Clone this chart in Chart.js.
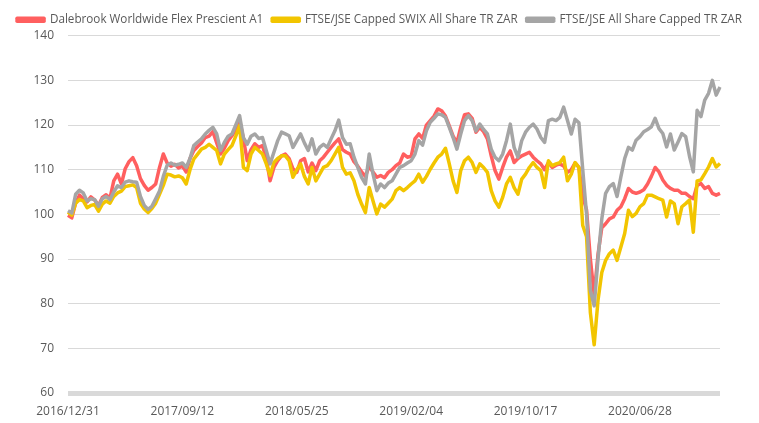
<!DOCTYPE html>
<html>
<head>
<meta charset="utf-8">
<script src="https://cdn.jsdelivr.net/npm/chart.js@4"></script>
<style>
  html, body { margin: 0; padding: 0; background: #fff; }
  #wrap { width: 759px; height: 423px; }
</style>
</head>
<body>
<div id="wrap"><canvas id="chart"></canvas></div>
<script>
// series names
const seriesNames = [
  "Dalebrook Worldwide Flex Prescient A1",
  "FTSE/JSE Capped SWIX All Share TR ZAR",
  "FTSE/JSE All Share Capped TR ZAR"
];

// x axis: one point every 8.5 days from 2016/12/31, label every 30 points
const startDate = "2016-12-31";
const tickLabels = ["2016/12/31", "2017/09/12", "2018/05/25", "2019/02/04", "2019/10/17", "2020/06/28"];

// values
const dalebrook = [
  99.8, 99.2, 102.5, 104.3, 103.5, 102.8, 103.9, 103.2, 102.0, 103.8,
  104.4, 103.6, 107.5, 109.0, 106.8, 110.2, 111.8, 112.7, 110.9, 108.0,
  106.5, 105.4, 106.0, 106.8, 110.5, 113.5, 111.5, 110.8, 111.2, 110.4,
  110.8, 109.5, 112.5, 114.3, 115.2, 116.0, 117.2, 117.5, 118.5, 116.0,
  113.5, 114.8, 116.5, 117.6, 119.0, 121.0, 117.0, 112.0, 114.5, 115.8,
  115.0, 115.4, 112.5, 107.5, 110.5, 112.0, 113.1, 113.5, 112.5, 110.2,
  109.4, 112.0, 112.5, 109.5, 111.5, 109.8, 112.0, 112.8, 113.9, 115.0,
  116.0, 116.9, 114.5, 113.9, 113.5, 111.8, 110.8, 109.5, 108.5, 110.8,
  109.5, 108.3, 108.7, 108.2, 109.4, 110.0, 110.9, 111.5, 113.5, 112.8,
  113.0, 116.9, 118.0, 117.0, 120.0, 121.0, 122.0, 123.6, 123.2, 122.0,
  119.8, 117.5, 116.0, 119.5, 122.3, 122.5, 121.5, 118.4, 119.5, 118.5,
  116.9, 113.1, 109.8, 107.9, 110.5, 112.8, 114.2, 111.6, 112.5, 113.1,
  113.5, 113.9, 112.8, 112.0, 111.3, 110.0, 111.6, 110.5, 111.0, 111.3,
  110.8, 109.4, 110.0, 111.5, 110.5, 104.0, 101.0, 90.0, 82.0, 91.0,
  97.0, 97.9, 99.0, 99.4, 100.9, 101.7, 103.5, 105.8, 105.0, 104.7,
  105.0, 105.5, 106.8, 108.5, 110.5, 109.5, 107.7, 106.5, 105.8, 105.4,
  105.4, 104.7, 104.7, 104.0, 103.5, 106.5, 106.9, 105.8, 106.2, 104.7,
  104.3, 104.7
];

const swix = [
  100.5, 99.8, 102.5, 103.3, 103.0, 101.5, 102.0, 102.2, 100.7, 102.3,
  103.0, 102.5, 104.0, 104.8, 105.2, 106.2, 106.4, 106.6, 106.0, 102.5,
  101.2, 100.4, 101.3, 102.5, 104.5, 106.5, 109.0, 108.8, 108.4, 108.6,
  108.2, 106.8, 110.0, 112.4, 113.5, 114.6, 115.0, 115.7, 115.0, 114.3,
  111.3, 113.5, 114.5, 115.4, 117.5, 119.9, 110.5, 109.8, 113.5, 115.0,
  114.3, 113.5, 111.3, 108.7, 111.6, 112.5, 113.1, 113.1, 112.0, 108.3,
  110.0, 111.3, 108.5, 106.8, 110.5, 107.5, 109.0, 110.5, 110.9, 112.0,
  113.5, 115.0, 110.5, 109.0, 109.3, 107.5, 104.5, 102.3, 100.4, 106.0,
  103.0, 100.1, 102.3, 101.6, 102.5, 103.4, 105.3, 106.0, 105.3, 106.0,
  106.8, 107.5, 109.0, 107.2, 108.5, 110.1, 111.5, 112.8, 113.5, 114.8,
  111.3, 107.5, 104.9, 109.8, 112.0, 112.8, 111.6, 109.4, 111.3, 110.5,
  109.4, 105.3, 103.0, 101.6, 103.8, 106.8, 108.3, 106.0, 104.5, 107.9,
  109.0, 110.5, 111.6, 110.5, 109.8, 106.0, 112.0, 110.9, 111.3, 111.6,
  112.8, 107.5, 109.0, 111.6, 110.5, 97.5, 95.0, 78.0, 70.8, 80.7,
  87.0, 89.7, 91.2, 92.0, 89.7, 92.7, 95.7, 100.9, 99.5, 100.2,
  101.7, 102.4, 104.3, 104.3, 103.9, 103.5, 103.2, 99.4, 103.0, 102.4,
  97.9, 101.7, 102.4, 103.2, 96.0, 107.5, 107.7, 109.1, 110.6, 112.5,
  110.6, 111.4
];

const alsi = [
  100.8, 100.3, 104.5, 105.4, 104.8, 103.0, 103.5, 103.3, 101.8, 103.5,
  104.0, 103.3, 105.0, 106.4, 106.0, 107.2, 107.5, 107.3, 107.2, 104.0,
  102.0, 101.1, 101.8, 103.5, 105.2, 108.5, 111.0, 111.5, 111.0, 111.2,
  111.5, 110.5, 112.5, 115.4, 116.2, 116.9, 118.0, 118.8, 119.5, 118.0,
  114.3, 116.1, 117.5, 118.0, 120.0, 122.1, 117.2, 115.7, 117.5, 118.0,
  117.0, 117.2, 114.3, 111.3, 113.9, 116.5, 118.4, 118.0, 117.6, 115.0,
  116.5, 118.0, 116.0, 114.3, 116.9, 113.5, 115.0, 115.7, 115.0, 116.9,
  118.7, 121.1, 117.2, 115.7, 115.8, 112.8, 110.5, 108.3, 106.8, 113.5,
  109.0, 105.3, 106.8, 106.0, 107.0, 107.5, 109.0, 110.5, 110.9, 111.5,
  112.0, 113.5, 116.5, 115.5, 118.7, 120.6, 121.5, 122.5, 122.3, 121.7,
  119.5, 117.2, 114.6, 118.0, 121.0, 122.1, 121.0, 118.7, 120.2, 119.0,
  118.0, 114.6, 112.8, 112.0, 113.5, 116.5, 120.2, 115.0, 112.8, 116.5,
  118.4, 119.5, 120.2, 119.1, 117.2, 116.1, 121.0, 121.3, 121.0, 121.7,
  124.0, 121.0, 118.0, 121.3, 120.5, 110.0, 100.0, 83.0, 79.5, 90.0,
  99.0, 104.7, 106.2, 106.9, 104.0, 108.4, 112.5, 115.0, 114.4, 116.6,
  117.4, 118.5, 119.0, 119.6, 121.5, 119.2, 118.1, 115.1, 118.0, 114.4,
  116.2, 118.1, 117.4, 113.0, 109.5, 123.3, 121.9, 125.6, 127.1, 130.0,
  126.7, 128.5
];

const colors = ["#FF5F5F", "#F2C500", "#A5A5A5"];

// build date categories
const categories = dalebrook.map((v, i) => {
  const d = new Date(startDate + "T00:00:00Z");
  d.setUTCDate(d.getUTCDate() + Math.round(i * 8.5));
  const p = n => String(n).padStart(2, "0");
  return d.getUTCFullYear() + "/" + p(d.getUTCMonth() + 1) + "/" + p(d.getUTCDate());
});

const fontFamily = "'Open Sans', sans-serif";
const textColor = "#595959";

const mk = (i, data, order) => ({
  label: seriesNames[i],
  data: data,
  borderColor: colors[i],
  backgroundColor: colors[i],
  borderWidth: 3.5,
  pointRadius: 0,
  tension: 0,
  borderJoinStyle: "round",
  order: order,
});

new Chart(document.getElementById("chart"), {
  type: "line",
  data: {
    labels: categories,
    datasets: [mk(0, dalebrook, 3), mk(1, swix, 2), mk(2, alsi, 1)],
  },
  options: {
    responsive: true,
    maintainAspectRatio: false,
    animation: false,
    layout: { padding: { left: 0, right: 0, top: 5, bottom: 0 } },
    plugins: {
      tooltip: { enabled: false },
      legend: {
        position: "top",
        align: "center",
        labels: {
          boxWidth: 27,
          boxHeight: 3,
          padding: 9,
          color: textColor,
          font: { family: fontFamily, size: 11.7 },
          sort: (a, b) => a.datasetIndex - b.datasetIndex,
        },
      },
    },
    scales: {
      x: {
        type: "category",
        afterFit: s => { s.height = 30; },
        grid: { display: false, drawTicks: false },
        border: { display: false },
        ticks: {
          autoSkip: false,
          maxRotation: 0,
          color: textColor,
          font: { family: fontFamily, size: 12 },
          padding: 11,
          callback: (val, i) => (i % 30 === 0 ? tickLabels[i / 30] : null),
        },
      },
      y: {
        min: 60,
        max: 140,
        afterFit: s => { s.width = 68; },
        border: { display: false },
        grid: {
          color: "#D9D9D9",
          drawTicks: false,
          lineWidth: c => (c.tick && c.tick.value === 60 ? 5 : 1),
        },
        ticks: {
          stepSize: 10,
          padding: 14,
          color: textColor,
          font: { family: fontFamily, size: 12 },
        },
      },
      // empty right margin
      yRight: {
        type: "linear",
        position: "right",
        afterFit: s => { s.width = 39; },
        grid: { display: false },
        border: { display: false },
        ticks: { display: false },
      },
    },
  },
});
</script>
</body>
</html>
